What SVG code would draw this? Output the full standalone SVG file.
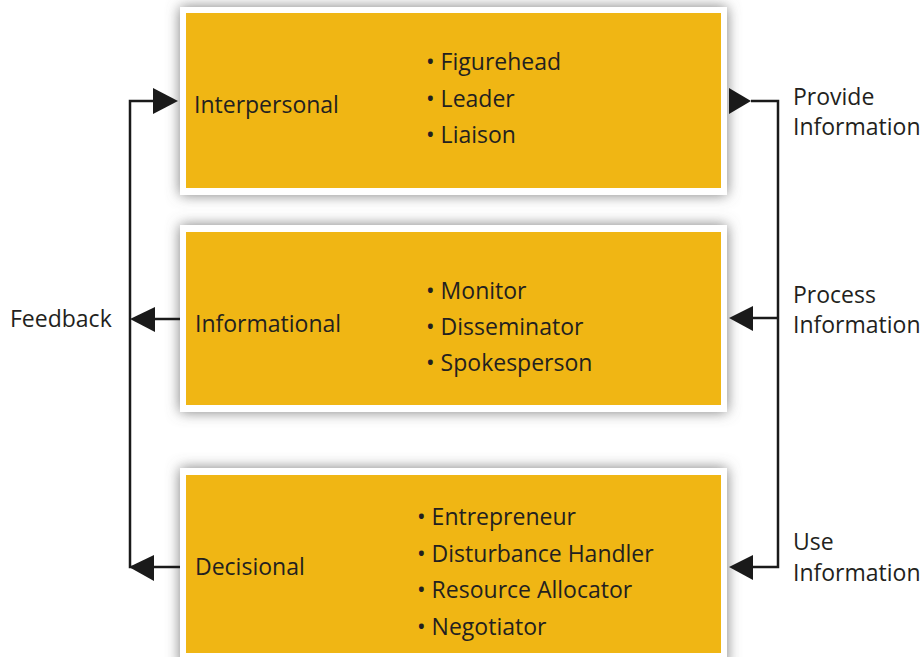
<svg xmlns="http://www.w3.org/2000/svg" width="923" height="657" viewBox="0 0 923 657">
<style>
.frame{fill:#ffffff;filter:url(#sh)}
.fill{fill:#F0B614}
text{font-family:"Open Sans","Noto Sans","Liberation Sans",sans-serif;font-size:23px;fill:#231f20}
.ln{stroke:#1a1a1a;stroke-width:2.5;fill:none}
.ah{fill:#1a1a1a}
</style>
<defs>
<filter id="sh" x="-10%" y="-25%" width="120%" height="150%">
<feDropShadow dx="0" dy="0" stdDeviation="7" flood-color="#6e6e6e" flood-opacity="0.9"/>
</filter>
</defs>
<rect width="923" height="657" fill="#ffffff"/>
<g id="interpersonal">
<rect class="frame" x="180" y="7" width="547" height="188"/>
<rect class="fill" x="186" y="13" width="535" height="175"/>
<text x="194" y="113">Interpersonal</text>
<text x="426" y="70">• Figurehead</text>
<text x="426" y="107">• Leader</text>
<text x="426" y="143">• Liaison</text>
</g>
<g id="informational">
<rect class="frame" x="180" y="225" width="547" height="187"/>
<rect class="fill" x="186" y="232" width="535" height="173"/>
<text x="195" y="332">Informational</text>
<text x="426" y="299">• Monitor</text>
<text x="426" y="335">• Disseminator</text>
<text x="426" y="371">• Spokesperson</text>
</g>
<g id="decisional">
<rect class="frame" x="180" y="468" width="547" height="200"/>
<rect class="fill" x="186" y="475" width="535" height="178"/>
<text x="195" y="575">Decisional</text>
<text x="417" y="525">• Entrepreneur</text>
<text x="417" y="562">• Disturbance Handler</text>
<text x="417" y="598">• Resource Allocator</text>
<text x="417" y="635">• Negotiator</text>
</g>
<g id="labels">
<text x="10" y="327">Feedback</text>
<text x="793" y="105">Provide</text>
<text x="793" y="135">Information</text>
<text x="793" y="303">Process</text>
<text x="793" y="333">Information</text>
<text x="793" y="550">Use</text>
<text x="793" y="581">Information</text>
</g>
<g id="connectors">
<path class="ln" d="M154,567 H130 V101 H154"/>
<path class="ln" d="M180,319 H154"/>
<path class="ln" d="M180,567 H154"/>
<polygon class="ah" points="178,101 153,88 153,114"/>
<polygon class="ah" points="130,319 155,307 155,332"/>
<polygon class="ah" points="129,567 154,555 154,581"/>
<path class="ln" d="M751,101 H778 V567 H753"/>
<path class="ln" d="M778,318 H753"/>
<polygon class="ah" points="751,101 729,88 729,114"/>
<polygon class="ah" points="729,318 753,306 753,331"/>
<polygon class="ah" points="729,567 753,555 753,580"/>
</g>
</svg>
